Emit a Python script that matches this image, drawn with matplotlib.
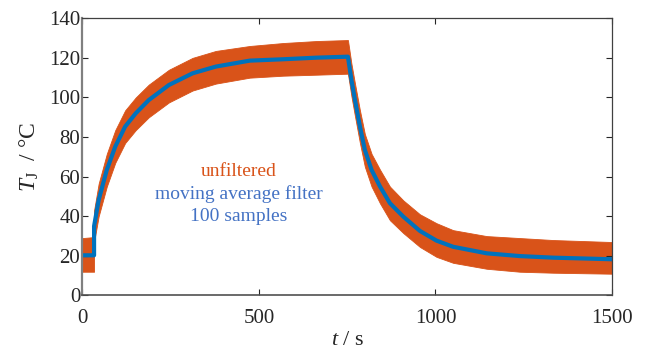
import matplotlib
matplotlib.use("Agg")
import matplotlib.pyplot as plt

# time (s)
t_s = [0, 33, 33, 46, 69, 93, 121, 151, 188, 245, 312, 378, 474, 569, 663, 752,
       762, 772, 786, 800, 819, 843, 871, 909, 956, 1003, 1050, 1145, 1239, 1334, 1500]
# moving-average filtered junction temperature (°C)
T_filt = [20.3, 20.3, 35.0, 48.2, 63.4, 75.2, 85.3, 92.0, 98.7, 106.3, 112.2, 115.6, 118.6,
          119.3, 120.1, 120.6, 108.8, 98.7, 85.3, 73.5, 63.4, 55.0, 46.6, 39.8, 32.6, 27.7,
          24.6, 21.3, 19.9, 19.1, 18.3]
# unfiltered signal envelope (°C)
T_raw_max = [29.0, 29.5, 43.0, 56.5, 71.5, 83.5, 93.5, 100.0, 106.5, 114.0, 120.0, 123.5, 126.0,
             127.5, 128.5, 129.0, 117.0, 107.0, 93.5, 81.5, 71.5, 63.5, 55.0, 48.0, 41.0, 36.5,
             33.0, 30.0, 29.0, 28.0, 27.0]
T_raw_min = [12.0, 12.0, 27.0, 40.0, 55.0, 67.0, 77.0, 83.5, 90.0, 97.5, 103.5, 107.0, 110.0,
             111.0, 111.5, 112.0, 100.5, 90.5, 77.0, 65.0, 55.0, 46.5, 38.0, 31.5, 24.5, 19.5,
             16.5, 13.5, 12.0, 11.5, 11.0]

x_ticks = [0, 500, 1000, 1500]
y_ticks = [0, 20, 40, 60, 80, 100, 120, 140]

plt.rcParams['font.family'] = ['Liberation Serif', 'DejaVu Serif']
plt.rcParams['mathtext.fontset'] = 'custom'
plt.rcParams['mathtext.rm'] = 'Liberation Serif'
plt.rcParams['mathtext.it'] = 'Liberation Serif:italic'

orange = '#D95319'
blue = '#0072BD'

fig = plt.figure(figsize=(6.49, 3.58), dpi=100)
ax = fig.add_axes([0.127, 0.1746, 0.816, 0.7744])

ax.fill_between(t_s, T_raw_min, T_raw_max, color=orange, linewidth=0.6, edgecolor=orange)
ax.plot(t_s, T_filt, color=blue, linewidth=3.0, solid_joinstyle='round')

ax.set_xlim(0, 1500)
ax.set_ylim(0, 140)
ax.set_xticks(x_ticks)
ax.set_yticks(y_ticks)
ax.tick_params(direction='in', length=4, width=0.8, labelsize=15, colors='#262626',
               top=True, right=True)
ax.tick_params(axis='x', pad=10)
ax.tick_params(axis='y', pad=1.5)
for s in ax.spines.values():
    s.set_color('#404040')
    s.set_linewidth(0.9)
ax.spines['left'].set_color('#808080')
ax.spines['left'].set_linewidth(1.6)
ax.spines['bottom'].set_color('#505050')
ax.spines['bottom'].set_linewidth(1.2)

ax.set_xlabel(r'$t$ / s', fontsize=16, color='#262626', labelpad=2)
ax.set_ylabel(r'$T_\mathrm{J}$  / °C', fontsize=17, color='#262626', labelpad=6)

ax.text(443, 62.5, 'unfiltered', color=orange, fontsize=14, ha='center', va='center')
ax.text(443, 51.3, 'moving average filter', color='#4472C4', fontsize=14, ha='center', va='center')
ax.text(443, 39.8, '100 samples', color='#4472C4', fontsize=14, ha='center', va='center')

fig.savefig('out.png', dpi=100)
